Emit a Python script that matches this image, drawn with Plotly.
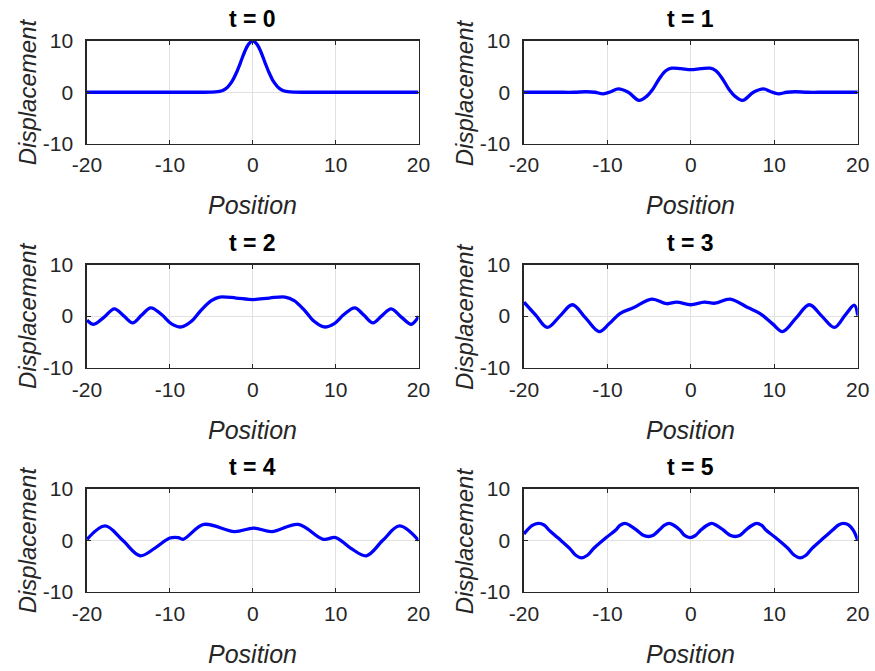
import plotly.graph_objects as go

# ---- data ----
titles = ["t = 0", "t = 1", "t = 2", "t = 3", "t = 4", "t = 5"]
x_ticks = [-20, -10, 0, 10, 20]
x_tick_text = ["-20", "-10", "0", "10", "20"]
y_ticks = [-10, 0, 10]
y_tick_text = ["-10", "0", "10"]

x_t0 = [-20, -15, -10, -6, -5, -4.5, -4, -3.5, -3, -2.5, -2, -1.5, -1, -0.5, 0,
        0.5, 1, 1.5, 2, 2.5, 3, 3.5, 4, 4.5, 5, 6, 10, 15, 20]
y_t0 = [0, 0, 0, 0, 0.02, 0.06, 0.18, 0.45, 1.05, 2.1, 3.7, 5.7, 7.8, 9.4, 10,
        9.4, 7.8, 5.7, 3.7, 2.1, 1.05, 0.45, 0.18, 0.06, 0.02, 0, 0, 0, 0]

x_t1 = [-20, -18, -16, -14, -12.5, -11.5, -10.5, -9.6, -8.7, -7.5, -6.2, -5.3, -4.6,
        -3.8, -3.0, -2.3, -1.2, 0, 1.2, 2.3, 3.0, 3.8, 4.6, 5.3, 6.2, 7.5, 8.7, 9.6,
        10.5, 11.5, 12.5, 14, 16, 18, 20]
y_t1 = [0, 0, 0, 0, 0.1, 0, -0.3, 0.1, 0.65, 0, -1.6, -0.8, 0.5,
        2.6, 4.2, 4.7, 4.6, 4.4, 4.6, 4.7, 4.2, 2.6, 0.5, -0.8, -1.6, 0, 0.65, 0.1,
        -0.3, 0, 0.1, 0, 0, 0, 0]

x_t2 = [-20, -19.2, -18, -16.7, -15.6, -14.5, -13.4, -12.3, -11, -9.8, -8.6, -7.4,
        -6.2, -5, -4, -2, 0, 2, 3.9, 5, 6.2, 7.4, 8.6, 9.8, 11, 12.3, 13.4, 14.5,
        15.6, 16.7, 18, 19.1, 19.7, 20]
y_t2 = [-0.8, -1.6, -0.3, 1.4, 0.1, -1.3, 0.2, 1.6, 0.3, -1.5, -2.1, -1.0,
        1.2, 3.0, 3.7, 3.5, 3.2, 3.5, 3.7, 3.0, 1.2, -1.0, -2.1, -1.5, 0.3, 1.6, 0.2, -1.3,
        0.1, 1.4, -0.3, -1.6, -0.8, 0]

x_t3 = [-20, -18.6, -17.2, -15.7, -14.2, -12.6, -11.0, -9.8, -8.5, -6.9, -4.7, -2.9,
        -1.7, 0, 1.6, 2.9, 4.7, 6.9, 8.3, 9.8, 11.0, 12.6, 14.2, 15.7, 17.2, 18.5,
        19.6, 20]
y_t3 = [2.7, 0.2, -2.2, 0, 2.2, -0.4, -3.0, -1.5, 0.5, 1.6, 3.3, 2.4,
        2.7, 2.2, 2.7, 2.5, 3.3, 1.6, 0.5, -1.5, -3.0, -0.4, 2.2, 0, -2.2, 0.2,
        2.1, 0.1]

x_t4 = [-20, -17.8, -15.7, -13.6, -11.8, -10, -9, -8.4, -5.9, -2.2, 0.1, 2.3, 5.5,
        8.5, 10, 11.8, 13.7, 15.7, 17.7, 20]
y_t4 = [0.2, 2.8, 0, -3.0, -1.5, 0.45, 0.55, 0.2, 3.1, 1.7, 2.4, 1.7, 3.1,
        0.2, 0.55, -1.5, -3.0, 0, 2.8, 0]

x_t5 = [-20, -19.0, -18.3, -17.6, -17, -15.9, -14.5, -13.8, -13.1, -12.4, -11.6,
        -10.1, -9, -8.5, -7.9, -7.3, -6.5, -5.7, -5.1, -4.5, -3.8, -3.2, -2.6, -2.0,
        -1.3, -0.7, -0.1, 0.5, 1.2, 1.9, 2.5, 3.1, 3.9, 4.7, 5.3, 5.9, 6.6, 7.3, 7.9,
        8.5, 9, 10.1, 11.6, 12.4, 13.1, 13.8, 14.5, 15.9, 17, 17.7, 18.3, 18.9, 19.5, 20]
y_t5 = [1.25, 2.9, 3.3, 3.0, 2.0, 0.45, -1.6, -2.9, -3.4, -2.9, -1.5,
        0.6, 2.0, 2.9, 3.3, 2.9, 2.0, 1.0, 0.75, 1.0, 2.0, 2.9, 3.3, 2.9,
        2.0, 0.9, 0.55, 0.9, 2.0, 2.9, 3.3, 2.9, 2.0, 1.0, 0.75, 1.0, 2.0, 2.9, 3.3,
        2.9, 2.0, 0.6, -1.5, -2.9, -3.4, -2.9, -1.6, 0.45, 2.0, 3.0, 3.3, 3.0, 1.9, 0]

xs = [x_t0, x_t1, x_t2, x_t3, x_t4, x_t5]
ys = [y_t0, y_t1, y_t2, y_t3, y_t4, y_t5]

# ---- layout geometry (pixels) ----
W, H = 875, 671
col_px = [(87, 418.5), (524, 857.7)]
row_px = [(41, 143.5), (264.5, 367.7), (489, 591.7)]

AX = "#262626"
FONT = "Liberation Sans, Arial, sans-serif"

fig = go.Figure()
layout = dict(width=W, height=H, margin=dict(l=0, r=0, t=0, b=0, autoexpand=False),
              paper_bgcolor="white", plot_bgcolor="white", showlegend=False,
              annotations=[])

for i in range(6):
    r, c = divmod(i, 2)
    n = "" if i == 0 else str(i + 1)
    x0, x1 = col_px[c]
    y0, y1 = row_px[r]
    fig.add_trace(go.Scatter(x=xs[i], y=ys[i], mode="lines",
                             line=dict(color="#0000ff", width=3.3, shape="spline", smoothing=1.0),
                             xaxis="x" + n, yaxis="y" + n, hoverinfo="skip"))
    common = dict(showline=True, mirror="ticks", linecolor=AX, linewidth=1.6,
                  ticks="inside", ticklen=4, tickwidth=1.2, tickcolor=AX,
                  showgrid=True, gridcolor="#e1e1e1", gridwidth=1, zeroline=False,
                  automargin=False, fixedrange=True,
                  tickfont=dict(family=FONT, size=21, color=AX))
    layout["xaxis" + n] = dict(common, domain=[x0 / W, x1 / W], range=[-20, 20],
                               tickvals=x_ticks, ticktext=x_tick_text,
                               anchor="y" + n, ticklabelstandoff=2)
    layout["yaxis" + n] = dict(common, domain=[1 - y1 / H, 1 - y0 / H], range=[-10, 10],
                               tickvals=y_ticks, ticktext=y_tick_text,
                               anchor="x" + n, ticklabelstandoff=8)
    cx = (x0 + x1) / 2
    layout["annotations"].append(dict(
        text="<b>" + titles[i] + "</b>", x=cx / W, y=1 - (y0 - 22) / H,
        xref="paper", yref="paper", showarrow=False, xanchor="center", yanchor="middle",
        font=dict(family=FONT, size=23, color="black")))
    layout["annotations"].append(dict(
        text="<i>Position</i>", x=cx / W, y=1 - (y1 + 62) / H,
        xref="paper", yref="paper", showarrow=False, xanchor="center", yanchor="middle",
        font=dict(family=FONT, size=25, color=AX)))
    layout["annotations"].append(dict(
        text="<i>Displacement</i>", x=(x0 - 60) / W, y=1 - ((y0 + y1) / 2) / H,
        xref="paper", yref="paper", showarrow=False, xanchor="center", yanchor="middle",
        textangle=-90, font=dict(family=FONT, size=24, color=AX)))

fig.update_layout(**layout)
fig.write_html("out.html", config={"displayModeBar": False, "staticPlot": True},
               post_script="document.body.style.margin='0';document.body.style.overflow='hidden';")
